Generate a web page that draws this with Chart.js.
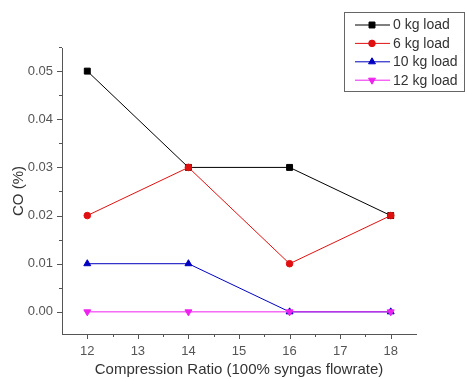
<!DOCTYPE html>
<html>
<head>
<meta charset="utf-8">
<script src="https://cdn.jsdelivr.net/npm/chart.js@4/dist/chart.umd.min.js"></script>
<style>
  html, body { margin: 0; padding: 0; background: #fff; }
  #wrap { width: 467px; height: 379px; }
</style>
</head>
<body>
<div id="wrap"><canvas id="coChart" width="467" height="379"></canvas></div>
<script>
// compression ratio vs CO emission per engine load
var ratios = [12, 14, 16, 18];
var load0 = [0.05, 0.03, 0.03, 0.02];
var load6 = [0.02, 0.03, 0.01, 0.02];
var load10 = [0.01, 0.01, 0.00, 0.00];
var load12 = [0.00, 0.00, 0.00, 0.00];
var xTickValues = [12, 13, 14, 15, 16, 17, 18];
var yTickValues = [0.00, 0.01, 0.02, 0.03, 0.04, 0.05];

var FONT = '"Liberation Sans", Arial, sans-serif';

function pts(ys) {
  return ratios.map(function (x, i) { return { x: x, y: ys[i] }; });
}

function series(label, ys, color, style, rot, radius, order) {
  return {
    label: label,
    data: pts(ys),
    borderColor: color,
    backgroundColor: color,
    pointBackgroundColor: color,
    pointBorderColor: color,
    pointStyle: style,
    rotation: rot,
    pointRadius: radius,
    pointBorderWidth: 1,
    borderWidth: 1,
    tension: 0,
    order: order
  };
}

// axis ticks drawn outward, long at labelled values, short between
var tickMarks = {
  id: 'tickMarks',
  afterDraw: function (chart) {
    var ctx = chart.ctx, xs = chart.scales.x, ys = chart.scales.y;
    ctx.save();
    ctx.strokeStyle = '#555';
    ctx.lineWidth = 1;
    ctx.beginPath();
    for (var v = 12; v <= 18.001; v += 0.5) {
      var px = Math.round(xs.getPixelForValue(v)) + 0.5;
      var len = Math.abs(v - Math.round(v)) < 1e-6 ? 5 : 3;
      ctx.moveTo(px, ys.bottom);
      ctx.lineTo(px, ys.bottom + len);
    }
    for (var k = 0; k <= 11; k++) {
      var val = k * 0.005;
      var py = Math.round(ys.getPixelForValue(val)) + 0.5;
      var l = k % 2 === 0 ? 5 : 3;
      ctx.moveTo(xs.left, py);
      ctx.lineTo(xs.left - l, py);
    }
    ctx.stroke();
    ctx.restore();
  }
};

// boxed legend in the top right corner
var boxLegend = {
  id: 'boxLegend',
  afterDraw: function (chart) {
    var ctx = chart.ctx;
    var left = 344.5, top = 12.5, w = 120, h = 79;
    ctx.save();
    ctx.fillStyle = '#fff';
    ctx.fillRect(left, top, w, h);
    ctx.strokeStyle = '#666';
    ctx.lineWidth = 1;
    ctx.strokeRect(left, top, w, h);
    chart.data.datasets.forEach(function (ds, i) {
      var y = 25 + i * 18.4;
      ctx.strokeStyle = ds.borderColor;
      ctx.beginPath();
      ctx.moveTo(355, y);
      ctx.lineTo(390, y);
      ctx.stroke();
      ctx.fillStyle = ds.backgroundColor;
      Chart.helpers.drawPoint(ctx, {
        pointStyle: ds.pointStyle,
        rotation: ds.rotation,
        radius: ds.pointRadius,
        borderWidth: 1
      }, 372, y);
      ctx.fillStyle = '#333';
      ctx.font = '14px ' + FONT;
      ctx.textBaseline = 'middle';
      ctx.textAlign = 'left';
      ctx.fillText(ds.label, 393, y + 0.5);
    });
    ctx.restore();
  }
};

var chart = new Chart(document.getElementById('coChart').getContext('2d'), {
  type: 'line',
  data: {
    datasets: [
      series('0 kg load', load0, '#000000', 'rect', 0, 4.2, 3),
      series('6 kg load', load6, '#e01010', 'circle', 0, 3.3, 2),
      series('10 kg load', load10, '#0000c0', 'triangle', 0, 4, 1),
      series('12 kg load', load12, '#ee22ee', 'triangle', 180, 4, 0)
    ]
  },
  options: {
    responsive: false,
    animation: false,
    layout: { padding: { left: 0, top: 48, right: 51, bottom: 0 } },
    plugins: { legend: { display: false }, tooltip: { enabled: false } },
    scales: {
      x: {
        type: 'linear',
        min: 11.5,
        max: 18.5,
        afterBuildTicks: function (s) { s.ticks = xTickValues.map(function (v) { return { value: v }; }); },
        afterFit: function (s) { s.height = 45; },
        grid: { drawOnChartArea: false, drawTicks: false, color: 'transparent' },
        border: { display: true, color: '#555', width: 1 },
        ticks: { padding: 10, color: '#555', font: { family: FONT, size: 13 }, maxRotation: 0,
          callback: function (v) { return String(v); } },
        title: { display: true, text: 'Compression Ratio (100% syngas flowrate)', color: '#333',
          font: { family: FONT, size: 15 }, padding: { top: 0, bottom: 0 } }
      },
      y: {
        min: -0.0046,
        max: 0.0548,
        afterBuildTicks: function (s) { s.ticks = yTickValues.map(function (v) { return { value: v }; }); },
        afterFit: function (s) { s.width = 62; },
        grid: { drawOnChartArea: false, drawTicks: false, color: 'transparent' },
        border: { display: true, color: '#555', width: 1 },
        ticks: { padding: 9, color: '#555', font: { family: FONT, size: 13 },
          callback: function (v) { return Number(v).toFixed(2); } },
        title: { display: true, text: 'CO (%)', color: '#333',
          font: { family: FONT, size: 15 }, padding: { top: 10, bottom: 0 } }
      }
    }
  },
  plugins: [tickMarks, boxLegend]
});
</script>
</body>
</html>
